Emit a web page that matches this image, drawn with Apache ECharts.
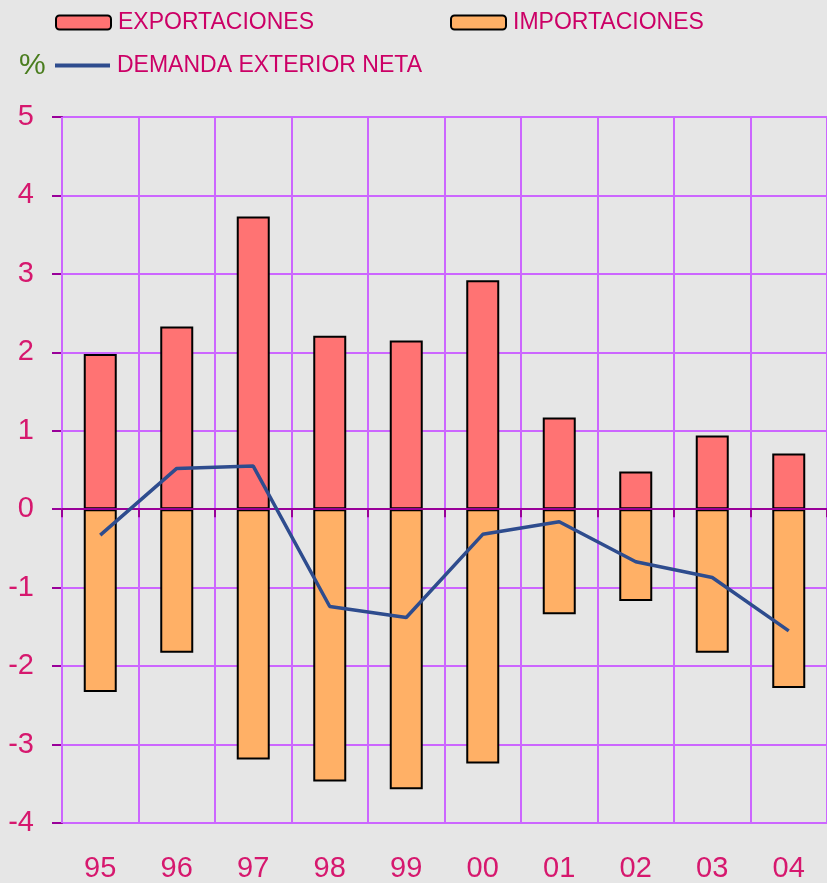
<!DOCTYPE html>
<html>
<head>
<meta charset="utf-8">
<script src="https://cdn.jsdelivr.net/npm/echarts@6/dist/echarts.min.js"></script>
<style>
html,body{margin:0;padding:0;background:#e6e6e6;}
#chart{width:827px;height:883px;}
</style>
</head>
<body>
<div id="chart"></div>
<script>
var categories = ['95','96','97','98','99','00','01','02','03','04'];
var exportaciones = [1.98, 2.33, 3.73, 2.21, 2.15, 2.92, 1.17, 0.48, 0.94, 0.71];
var importaciones = [-2.33, -1.83, -3.19, -3.47, -3.57, -3.24, -1.34, -1.17, -1.83, -2.28];
var demandaNeta = [-0.33, 0.52, 0.55, -1.24, -1.38, -0.32, -0.16, -0.67, -0.87, -1.55];

var axisDark = '#990099';
var gridCol = '#cc66ff';
var labelCol = '#d6186e';
var legendCol = '#cc0066';
var font = 'Liberation Sans, Arial, sans-serif';

var chart = echarts.init(document.getElementById('chart'));
chart.setOption({
  backgroundColor: '#e6e6e6',
  animation: false,
  title: {
    text: '%', left: 14, top: 46,
    textStyle: {color: '#4a7d1e', fontSize: 30, fontWeight: 'normal', fontFamily: font}
  },
  legend: [
    {left: 50, top: 6, itemWidth: 55, itemHeight: 14, data: ['EXPORTACIONES'],
     textStyle: {color: legendCol, fontSize: 23, fontFamily: font, padding: [0,0,0,2]}},
    {left: 445, top: 6, itemWidth: 55, itemHeight: 14, data: ['IMPORTACIONES'],
     textStyle: {color: legendCol, fontSize: 23, fontFamily: font, padding: [0,0,0,2]}},
    {left: 50, top: 49, itemWidth: 55, itemHeight: 4,
     data: [{name: 'DEMANDA EXTERIOR NETA', icon: 'rect'}],
     textStyle: {color: legendCol, fontSize: 23, fontFamily: font, padding: [0,0,0,2]}}
  ],
  grid: {left: 62, right: -5, top: 117, bottom: 57, containLabel: false},
  xAxis: [
    {type: 'category', data: categories, position: 'bottom', z: 3,
     axisLine: {show: true, onZero: true, lineStyle: {color: axisDark, width: 2}},
     axisTick: {show: true, length: 8, lineStyle: {color: axisDark, width: 2}},
     axisLabel: {show: false},
     splitLine: {show: true, lineStyle: {color: gridCol, width: 2}}},
    {type: 'category', data: categories, position: 'bottom',
     axisLine: {show: false, onZero: false},
     axisTick: {show: false},
     axisLabel: {show: true, color: labelCol, fontSize: 29, fontFamily: font, margin: 31},
     splitLine: {show: false}}
  ],
  yAxis: {
    type: 'value', min: -4, max: 5, interval: 1,
    axisLine: {show: true, lineStyle: {color: axisDark, width: 2}},
    axisTick: {show: true, length: 10, lineStyle: {color: axisDark, width: 2}},
    axisLabel: {color: labelCol, fontSize: 29, fontFamily: font, margin: 28},
    splitLine: {show: true, lineStyle: {color: gridCol, width: 2}}
  },
  series: [
    {name: 'EXPORTACIONES', type: 'bar', data: exportaciones, barWidth: 33, barGap: '-100%',
     itemStyle: {color: '#ff7373', borderColor: '#000', borderWidth: 2}},
    {name: 'IMPORTACIONES', type: 'bar', data: importaciones, barWidth: 33, barGap: '-100%',
     itemStyle: {color: '#ffb066', borderColor: '#000', borderWidth: 2}},
    {name: 'DEMANDA EXTERIOR NETA', type: 'line', data: demandaNeta, showSymbol: false, symbol: 'none',
     lineStyle: {color: '#2e4c8e', width: 3.5}, itemStyle: {color: '#2e4c8e'}, z: 5}
  ]
});
</script>
</body>
</html>
